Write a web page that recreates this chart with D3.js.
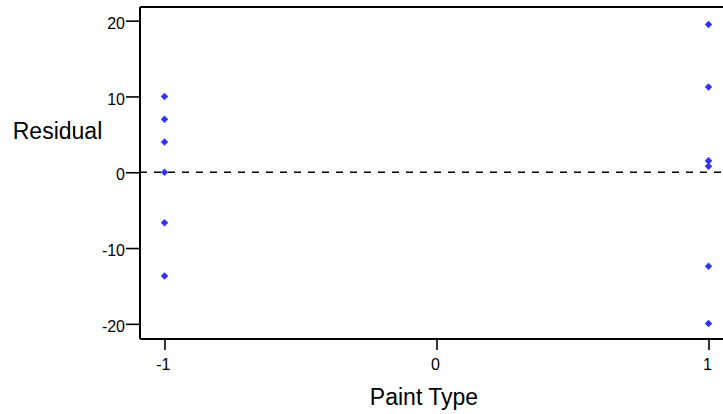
<!DOCTYPE html>
<html><head><meta charset="utf-8">
<script src="https://cdn.jsdelivr.net/npm/d3@7"></script>
<style>body{margin:0;background:#fff}svg{display:block}text{font-family:"Liberation Sans",Arial,sans-serif;fill:#000}</style>
</head><body><svg id="c" width="723" height="414"></svg>
<script>
const groupNeg = [10, 7, 4, 0, -6.65, -13.7];
const groupPos = [19.5, 11.25, 1.5, 0.8, -12.4, -19.95];
const xTicks = [-1, 0, 1];
const yTicks = [-20, -10, 0, 10, 20];
const points = groupNeg.map(v => ({x: -1, y: v})).concat(groupPos.map(v => ({x: 1, y: v})));

const svg = d3.select("#c");
const L = 140, T = 7, B = 339, R = 733;
const x = d3.scaleLinear().domain([-1.09, 1.09]).range([L, R]);
const y = d3.scaleLinear().domain([-22.0, 21.8]).range([B, T]);
const fmt = d => String(d);

svg.append("line").attr("x1", L).attr("x2", R).attr("y1", T).attr("y2", T).attr("stroke", "#000").attr("stroke-width", 2);
svg.append("line").attr("x1", L).attr("x2", R).attr("y1", B).attr("y2", B).attr("stroke", "#000").attr("stroke-width", 2);

const ya = svg.append("g").attr("transform", `translate(${L},0)`)
  .call(d3.axisLeft(y).tickValues(yTicks).tickSize(14).tickPadding(1).tickFormat(fmt));
ya.select(".domain").attr("stroke-width", 2).attr("d", `M0,${T}V${B}`);
ya.selectAll(".tick line").attr("stroke-width", 1.6);
ya.selectAll("text").attr("dy", "0.48em").style("font-size", "16px").style("font-family", "Liberation Sans, Arial, sans-serif");

const xa = svg.append("g").attr("transform", `translate(0,${B})`)
  .call(d3.axisBottom(x).tickValues(xTicks).tickSize(11).tickPadding(9).tickFormat(fmt));
xa.select(".domain").remove();
xa.selectAll(".tick line").attr("stroke-width", 1.6);
xa.selectAll("text").attr("dx", "-0.1em").style("font-size", "16px").style("font-family", "Liberation Sans, Arial, sans-serif");

svg.append("line").attr("x1", L).attr("x2", R).attr("y1", y(0)).attr("y2", y(0))
  .attr("stroke", "#000").attr("stroke-width", 1.6).attr("stroke-dasharray", "7,7");

svg.append("g").selectAll("path").data(points).join("path")
  .attr("transform", d => `translate(${x(d.x)},${y(d.y)})`)
  .attr("d", d3.symbol(d3.symbolDiamond2, 36)())
  .attr("fill", "#3333ff");

svg.append("text").attr("x", 57.5).attr("y", 139).attr("text-anchor", "middle").style("font-size", "23px").text("Residual");
svg.append("text").attr("x", 424).attr("y", 405).attr("text-anchor", "middle").style("font-size", "23px").text("Paint Type");
</script></body></html>
